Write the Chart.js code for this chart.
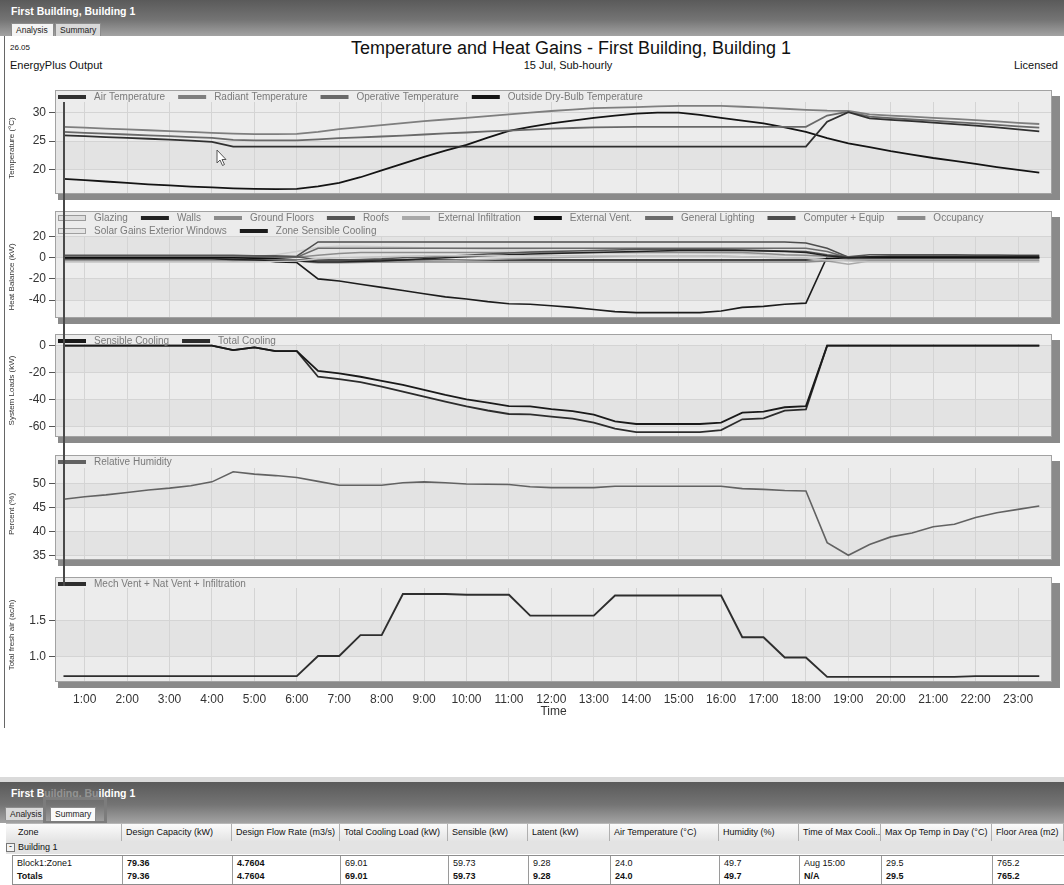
<!DOCTYPE html>
<html lang="en">
<head>
<meta charset="UTF-8">
<title>Temperature and Heat Gains - First Building, Building 1</title>
<script src="https://cdn.jsdelivr.net/npm/chart.js"></script>
<style>
  body { margin: 0; background: #fff; font-family: 'Liberation Sans', Arial, sans-serif; }
  #page { position: relative; width: 1064px; height: 885px; overflow: hidden; }
  .bar { position: absolute; left: 0; width: 1064px; height: 40px; background: linear-gradient(#5a5a5a, #747474 55%, #a3a3a3); }
  .bar .name { position: absolute; left: 11px; top: 5px; color: #fff; font: bold 10.5px 'Liberation Sans', Arial, sans-serif; }
  .tab { position: absolute; top: 23px; height: 13px; line-height: 13px; font-size: 8.5px; padding: 0 4px; color: #222; border: 1px solid #8c8c8c; border-bottom: none; box-sizing: border-box; }
  .txt { position: absolute; color: #111; white-space: nowrap; }
  canvas { position: absolute; left: 0; }
  .row { position: absolute; left: 0; display: flex; font-size: 9px; color: #111; }
  .row div { box-sizing: border-box; padding-left: 4px; white-space: nowrap; overflow: hidden; }
  .hdr div { border-right: 1px solid #b0b0b0; }
  .cells div { border-right: 1px solid #9a9a9a; }
  .b { font-weight: bold; }
</style>
</head>
<body>
<div id="page">
  <div class="bar" style="top:0;height:36px">
    <span class="name">First Building, Building 1</span>
    <span class="tab" style="left:11px;width:43px;background:#f4f4f4">Analysis</span>
    <span class="tab" style="left:55px;width:46px;background:#d9d9d9">Summary</span>
  </div>
  <div style="position:absolute;left:4px;top:36px;width:1px;height:692px;background:#666"></div>

  <div class="txt" style="left:10px;top:43px;font-size:8px">26.05</div>
  <div class="txt" style="left:10px;top:59px;font-size:11px">EnergyPlus Output</div>
  <div class="txt" style="left:571px;top:38px;font-size:18px;transform:translateX(-50%)">Temperature and Heat Gains - First Building, Building 1</div>
  <div class="txt" style="left:568px;top:59px;font-size:11px;transform:translateX(-50%)">15 Jul, Sub-hourly</div>
  <div class="txt" style="right:6px;top:59px;font-size:11px">Licensed</div>

  <canvas id="c1" width="1064" height="122" style="top:84px"></canvas>
  <canvas id="c2" width="1064" height="125" style="top:205px"></canvas>
  <canvas id="c3" width="1064" height="121" style="top:328px"></canvas>
  <canvas id="c4" width="1064" height="123" style="top:449px"></canvas>
  <canvas id="c5" width="1064" height="155" style="top:571px"></canvas>

  <!-- tracker line and mouse pointer left in the screenshot -->
  <div style="position:absolute;left:63px;top:102px;width:2px;height:484px;background:#4a4a4a"></div>
  <svg style="position:absolute;left:216px;top:149px" width="12" height="18" viewBox="0 0 12 18">
    <path d="M1 1 L1 14 L4 11 L6.5 16.5 L8.5 15.5 L6 10.5 L10 10.5 Z" fill="#fff" stroke="#555" stroke-width="1"/>
  </svg>

  <!-- summary panel -->
  <div style="position:absolute;left:0;top:777px;width:1064px;height:5px;background:#dadada"></div>
  <div class="bar" style="top:782px;height:41px">
    <span class="name">First B<span style="color:rgba(255,255,255,0.3)">uilding, Bu</span>ilding 1</span>
    <span class="tab" style="left:5px;top:25px;width:40px;background:#d9d9d9">Analysis</span>
    <span class="tab" style="left:50px;top:25px;width:46px;background:#fafafa;height:16px">Summary</span>
  </div>
  <div style="position:absolute;left:43px;top:797px;width:64px;height:27px;border:3px solid #7c7c7c;box-sizing:border-box"></div>

  <div id="table"></div>
</div>

<script>
// time of each sub-hourly record (hours)
const times = [0.5, 1, 1.5, 2, 2.5, 3, 3.5, 4, 4.5, 5, 5.5, 6, 6.5, 7, 7.5, 8, 8.5, 9, 9.5, 10, 10.5, 11, 11.5, 12,
  12.5, 13, 13.5, 14, 14.5, 15, 15.5, 16, 16.5, 17, 17.5, 18, 18.5, 19, 19.5, 20, 20.5, 21, 21.5, 22, 22.5, 23, 23.5];
const hourTicks = [1, 2, 3, 4, 5, 6, 7, 8, 9, 10, 11, 12, 13, 14, 15, 16, 17, 18, 19, 20, 21, 22, 23];

// Temperature (°C)
const airTemp = [26.0, 25.85, 25.7, 25.55, 25.4, 25.25, 25.05, 24.85, 24.0, 24.0, 24.0, 24.0, 24.0, 24.0, 24.0, 24.0,
  24.0, 24.0, 24.0, 24.0, 24.0, 24.0, 24.0, 24.0, 24.0, 24.0, 24.0, 24.0, 24.0, 24.0, 24.0, 24.0, 24.0, 24.0, 24.0, 24.0,
  28.4, 30.1, 29.0, 28.75, 28.5, 28.25, 28.0, 27.7, 27.4, 27.05, 26.7];
const radiantTemp = [27.5, 27.35, 27.2, 27.05, 26.9, 26.75, 26.6, 26.45, 26.3, 26.2, 26.2, 26.25, 26.6, 27.1, 27.45,
  27.8, 28.15, 28.5, 28.8, 29.1, 29.4, 29.7, 30.0, 30.3, 30.55, 30.8, 30.9, 31.0, 31.1, 31.2, 31.2, 31.2, 31.05, 30.9,
  30.7, 30.5, 30.35, 30.3, 29.7, 29.5, 29.3, 29.1, 28.9, 28.7, 28.45, 28.2, 28.0];
const operativeTemp = [26.6, 26.45, 26.3, 26.15, 26.0, 25.85, 25.7, 25.55, 25.2, 25.1, 25.1, 25.1, 25.3, 25.5, 25.65,
  25.8, 25.95, 26.15, 26.35, 26.5, 26.7, 26.85, 27.0, 27.2, 27.3, 27.4, 27.45, 27.5, 27.5, 27.5, 27.5, 27.5, 27.5, 27.5,
  27.5, 27.5, 29.5, 30.2, 29.3, 29.05, 28.8, 28.6, 28.35, 28.1, 27.85, 27.6, 27.35];
const outsideTemp = [18.3, 18.1, 17.85, 17.6, 17.35, 17.15, 16.95, 16.8, 16.65, 16.55, 16.5, 16.55, 17.0, 17.6, 18.6,
  19.8, 21.0, 22.2, 23.3, 24.3, 25.6, 26.8, 27.5, 28.1, 28.6, 29.1, 29.5, 29.85, 30.0, 30.0, 29.6, 29.1, 28.6, 28.1,
  27.4, 26.6, 25.5, 24.6, 23.9, 23.2, 22.6, 22.0, 21.5, 20.95, 20.4, 19.9, 19.4];
const tempTicks = [20, 25, 30];

// Heat balance (kW)
const glazing = [-4, -4, -4, -4, -4, -4, -4, -4, -4, -4, -3.5, -3, -1, 0, 0.5, 1, 1.5, 2, 2, 2, 2, 2, 2, 2, 2, 2, 2, 2,
  2, 2, 2, 1.5, 1, 0.5, 0, -0.5, -2, -3, -4, -4, -4, -4, -4, -4, -4, -4, -4];
const walls = [-1, -1, -1, -1, -1, -1, -1, -1, -1.5, -2, -2.5, -3, -4, -4, -3.5, -3, -2, -1, 0, 1, 2, 3, 3.5, 4, 4.5, 5,
  5.5, 6, 6.5, 7, 7, 7, 7, 6.5, 6, 5, 2, 0, 1, 1.5, 1.5, 1.5, 1.5, 1.5, 1.5, 1.5, 1.5];
const groundFloors = [-2, -2, -2, -2, -2, -2, -2, -2, -2, -2, -2, -2, -4, -4, -4, -4, -4, -4, -4, -4, -4, -4, -4, -4,
  -4, -4, -4, -4, -4, -4, -4, -4, -4, -4, -4, -4, -3, -2, -2, -2, -2, -2, -2, -2, -2, -2, -2];
const roofs = [2.5, 2.5, 2.5, 2.5, 2.5, 2.5, 2.5, 2.5, 2.5, 2, 2, 1, -2, -2, -1.5, -1, 0, 0.5, 1.5, 2.5, 3.5, 4.5, 5.5,
  6, 6.5, 7, 7.5, 8, 8, 8, 8, 8, 7.5, 7, 6.5, 6, 3, 1, 3, 3, 3, 2.8, 2.8, 2.6, 2.6, 2.5, 2.5];
const extInfiltration = [-3, -3, -3, -3, -3, -3, -3, -3, -3, -3, -3, -3, -5, -5, -4.5, -4, -3.5, -3, -2.5, -2, -1.5,
  -1, -0.5, 0, 0.5, 1, 1.5, 2, 2, 2, 2, 1.5, 1, 0.5, 0, -0.5, -3, -6, -3, -3, -3, -3, -3, -3, -3, -3, -3];
const extVent = [0, 0, 0, 0, 0, 0, 0, 0, 0, -0.5, -1, -2, -2.2, -2.2, -2.2, -2.2, -2.2, -2.2, -2.2, -2.2, -2.2, -2.2,
  -2.2, -2.2, -2.2, -2.2, -2.2, -2.2, -2.2, -2.2, -2.2, -2.2, -2.2, -2.2, -2.2, -2.2, -1, 0, 0, 0, 0, 0, 0, 0, 0, 0, 0];
const generalLighting = [0, 0, 0, 0, 0, 0, 0, 0, 0, 0, 0, 0.5, 9, 9, 9, 9, 9, 9, 9, 9, 9, 9, 9, 9, 9, 9, 9, 9, 9, 9, 9,
  9, 9, 9, 9, 9, 6, 0, 0, 0, 0, 0, 0, 0, 0, 0, 0];
const computerEquip = [0.8, 0.8, 0.8, 0.8, 0.8, 0.8, 0.8, 0.8, 0.8, 0.8, 1, 1.5, 15, 15, 15, 15, 15, 15, 15, 15, 15, 15,
  15, 15, 15, 15, 15, 15, 15, 15, 15, 15, 15, 15, 15, 14, 9, 0.5, 0.8, 0.8, 0.8, 0.8, 0.8, 0.8, 0.8, 0.8, 0.8];
const occupancy = [0, 0, 0, 0, 0, 0, 0, 0, 0, 0, 0, 0.5, 2.5, 4, 5, 5, 5, 5, 5, 5, 5, 5, 5, 5, 5, 5, 5, 5, 5, 5, 5, 5, 5,
  4, 3, 2.5, 1.5, 0, 0, 0, 0, 0, 0, 0, 0, 0, 0];
const solarGains = [0, 0, 0, 0, 0, 0, 0, 0, 0, 1, 3, 6, 10, 11, 11, 10.5, 10, 9.5, 9, 8.5, 8, 7.5, 7.5, 7, 7, 7, 7,
  6.5, 6, 5.5, 5, 4.5, 4, 3, 2.5, 2, 1, 0, 0, 0, 0, 0, 0, 0, 0, 0, 0];
const zoneSensibleCooling = [0, 0, 0, 0, 0, 0, 0, 0, -3, -1, -4, -4.5, -20, -22, -25, -28, -31, -34, -37, -39, -41.5,
  -43.5, -44, -45.5, -47, -49, -51, -52, -52, -52, -52, -50.5, -47, -46, -44, -43, 1, 0.5, 0, 0, 0, 0, 0, 0, 0, 0, 0];
const heatTicks = [-40, -20, 0, 20];

// System loads (kW)
const sensibleCooling = [0, 0, 0, 0, 0, 0, 0, 0, -3.2, -1.2, -4, -4, -18.7, -20.5, -23, -26, -29, -32.8, -36.5, -39.7,
  -42.2, -44.7, -44.9, -47, -48.5, -51, -56, -58, -58, -58, -58, -57, -49.6, -48.9, -45.6, -44.7, 0, 0, 0, 0, 0, 0, 0,
  0, 0, 0, 0];
const totalCooling = [0, 0, 0, 0, 0, 0, 0, 0, -3.2, -1.2, -4, -4, -23, -24.7, -27, -30.4, -34, -37.8, -41.5, -45, -48,
  -50.6, -50.8, -52.5, -54, -57, -61.5, -64, -64, -64, -64, -62.5, -54.5, -53.8, -48.1, -47.2, 0, 0, 0, 0, 0, 0, 0, 0,
  0, 0, 0];
const loadTicks = [-60, -40, -20, 0];

// Relative humidity (%)
const relHumidity = [46.7, 47.2, 47.6, 48.1, 48.6, 49.0, 49.5, 50.3, 52.4, 51.9, 51.6, 51.2, 50.4, 49.6, 49.6, 49.6,
  50.1, 50.3, 50.1, 49.85, 49.8, 49.75, 49.3, 49.1, 49.1, 49.1, 49.4, 49.4, 49.4, 49.4, 49.4, 49.4, 48.9, 48.75, 48.5,
  48.4, 37.7, 35.1, 37.3, 38.9, 39.7, 41.0, 41.5, 42.9, 43.9, 44.6, 45.3];
const rhTicks = [35, 40, 45, 50];

// Total fresh air (ac/h)
const freshAir = [0.73, 0.73, 0.73, 0.73, 0.73, 0.73, 0.73, 0.73, 0.73, 0.73, 0.73, 0.73, 1.01, 1.01, 1.30, 1.30, 1.87,
  1.87, 1.87, 1.86, 1.86, 1.86, 1.57, 1.57, 1.57, 1.57, 1.85, 1.85, 1.85, 1.85, 1.85, 1.85, 1.27, 1.27, 0.99, 0.99, 0.72,
  0.72, 0.72, 0.72, 0.72, 0.72, 0.72, 0.73, 0.73, 0.73, 0.73];
const airTicks = [1.0, 1.5];

// summary table
const summaryCols = ['Zone', 'Design Capacity (kW)', 'Design Flow Rate (m3/s)', 'Total Cooling Load (kW)', 'Sensible (kW)',
  'Latent (kW)', 'Air Temperature (°C)', 'Humidity (%)', 'Time of Max Cooli...', 'Max Op Temp in Day (°C)', 'Floor Area (m2)'];
const zoneRow = ['Block1:Zone1', '79.36', '4.7604', '69.01', '59.73', '9.28', '24.0', '49.7', 'Aug 15:00', '29.5', '765.2'];
const totalsRow = ['Totals', '79.36', '4.7604', '69.01', '59.73', '9.28', '24.0', '49.7', 'N/A', '29.5', '765.2'];

Chart.defaults.font.family = "'Liberation Sans', Arial, sans-serif";

// grey panel with drop shadow, legend drawn inside its top strip
const panelPlugin = {
  id: 'panel',
  beforeDraw(chart, args, opts) {
    const { ctx, chartArea: a } = chart;
    const top = a.top - opts.strip;
    const w = a.right - a.left, h = a.bottom - top;
    ctx.save();
    ctx.fillStyle = '#8a8a8a';
    ctx.fillRect(a.left + 3, top + 6, w + 5, h);
    ctx.fillStyle = '#ececec';
    ctx.fillRect(a.left, top, w, h);
    const ys = chart.scales.y;
    const px = ys.ticks.map(t => ys.getPixelForValue(t.value)).sort((p, q) => q - p);
    ctx.fillStyle = '#e3e3e3';
    for (let i = 0; i + 1 < px.length; i += 2) ctx.fillRect(a.left, px[i + 1], w, px[i] - px[i + 1]);
    ctx.restore();
  },
  afterDraw(chart, args, opts) {
    const { ctx, chartArea: a } = chart;
    const top = a.top - opts.strip;
    ctx.save();
    ctx.strokeStyle = '#a2a2a2';
    ctx.lineWidth = 1;
    ctx.strokeRect(a.left + 0.5, top + 0.5, a.right - a.left - 1, a.bottom - top - 1);
    ctx.font = "10px 'Liberation Sans', Arial, sans-serif";
    ctx.textBaseline = 'middle';
    let x = a.left + 3, y = top + 7;
    chart.data.datasets.forEach(ds => {
      const tw = ctx.measureText(ds.label).width;
      if (x + 36 + tw > a.right - 4) { x = a.left + 3; y += 13; }
      ctx.fillStyle = ds.swatch || ds.borderColor;
      if (ds.swatchEdge) {
        ctx.fillRect(x, y - 3, 28, 6);
        ctx.strokeStyle = ds.swatchEdge;
        ctx.strokeRect(x + 0.5, y - 2.5, 27, 5);
      } else {
        ctx.fillRect(x, y - 2, 28, 4);
      }
      ctx.fillStyle = '#7a7a7a';
      ctx.fillText(ds.label, x + 36, y + 0.5);
      x += 36 + tw + 13;
    });
    ctx.restore();
  }
};

function series(label, values, color, width, extra) {
  return Object.assign({
    label,
    data: values.map((v, i) => ({ x: times[i], y: v })),
    borderColor: color,
    backgroundColor: color,
    borderWidth: width,
    pointRadius: 0,
    tension: 0,
    fill: false
  }, extra || {});
}

function panel(id, datasets, o) {
  return new Chart(document.getElementById(id), {
    type: 'line',
    data: { datasets },
    options: {
      responsive: false,
      animation: false,
      events: [],
      layout: { padding: { left: 0, right: 12, top: o.padTop, bottom: o.padBottom } },
      plugins: { legend: { display: false }, tooltip: { enabled: false }, panel: { strip: o.strip } },
      scales: {
        x: {
          type: 'linear',
          min: 0.3,
          max: 23.8,
          afterBuildTicks: s => { s.ticks = hourTicks.map(v => ({ value: v })); },
          afterFit: s => { if (o.timeAxis) s.height = 40; },
          grid: { color: '#d4d4d4', drawTicks: false },
          border: { display: false },
          ticks: {
            display: !!o.timeAxis, autoSkip: false, maxRotation: 0, padding: 10,
            color: '#333', font: { size: 12 }, callback: v => v + ':00'
          },
          title: { display: !!o.timeAxis, text: 'Time', color: '#333', font: { size: 12 }, padding: { top: 0, bottom: 3 } }
        },
        y: {
          min: o.min,
          max: o.max,
          afterBuildTicks: s => { s.ticks = o.ticks.map(v => ({ value: v })); },
          afterFit: s => { s.width = 55; },
          grid: { color: '#d4d4d4', tickColor: '#555', tickLength: 6 },
          border: { display: false },
          ticks: { color: '#333', font: { size: 12 }, padding: 3, callback: o.fmt || (v => String(v)) },
          title: { display: true, text: o.title, color: '#333', font: { size: 8 }, padding: { top: 7, bottom: 0 } }
        }
      }
    },
    plugins: [panelPlugin]
  });
}

panel('c1', [
  series('Air Temperature', airTemp, '#303030', 1.8),
  series('Radiant Temperature', radiantTemp, '#7e7e7e', 1.8),
  series('Operative Temperature', operativeTemp, '#696969', 1.8),
  series('Outside Dry-Bulb Temperature', outsideTemp, '#141414', 1.8)
], { padTop: 18, padBottom: 12, strip: 12, min: 15.64, max: 31.89, ticks: tempTicks, title: 'Temperature (°C)' });

panel('c2', [
  series('Glazing', glazing, '#c4c4c4', 1.5, { swatch: '#dedede', swatchEdge: '#9a9a9a' }),
  series('Walls', walls, '#222222', 1.5),
  series('Ground Floors', groundFloors, '#8a8a8a', 1.5),
  series('Roofs', roofs, '#555555', 1.5),
  series('External Infiltration', extInfiltration, '#a8a8a8', 1.5),
  series('External Vent.', extVent, '#0e0e0e', 1.5),
  series('General Lighting', generalLighting, '#6b6b6b', 1.5),
  series('Computer + Equip', computerEquip, '#4d4d4d', 1.5),
  series('Occupancy', occupancy, '#8c8c8c', 1.5),
  series('Solar Gains Exterior Windows', solarGains, '#cdcdcd', 1.5, { swatch: '#e4e4e4', swatchEdge: '#a0a0a0' }),
  series('Zone Sensible Cooling', zoneSensibleCooling, '#1c1c1c', 1.6)
], { padTop: 31, padBottom: 12, strip: 25, min: -57.06, max: 20.66, ticks: heatTicks, title: 'Heat Balance (kW)' });

panel('c3', [
  series('Sensible Cooling', sensibleCooling, '#1a1a1a', 1.8),
  series('Total Cooling', totalCooling, '#2c2c2c', 1.8)
], { padTop: 16, padBottom: 12, strip: 10, min: -67.63, max: 1.26, ticks: loadTicks, title: 'System Loads (kW)' });

panel('c4', [
  series('Relative Humidity', relHumidity, '#626262', 1.6)
], { padTop: 19, padBottom: 12, strip: 13, min: 34.11, max: 53.17, ticks: rhTicks, title: 'Percent (%)' });

panel('c5', [
  series('Mech Vent + Nat Vent + Infiltration', freshAir, '#2e2e2e', 1.9)
], { padTop: 17, padBottom: 4, strip: 11, min: 0.649, max: 1.954, ticks: airTicks, title: 'Total fresh air (ac/h)',
  fmt: v => v.toFixed(1), timeAxis: true });

// summary table rows
const colWidths = [116, 110, 108, 108, 80, 82, 109, 80, 82, 111, 72];
function tableRow(cells, top, height, cls, style, boldCols) {
  const row = document.createElement('div');
  row.className = 'row ' + cls;
  row.style.cssText = 'top:' + top + 'px;height:' + height + 'px;line-height:' + height + 'px;' + style;
  cells.forEach((c, i) => {
    const cell = document.createElement('div');
    cell.style.width = colWidths[i] + 'px';
    if (boldCols === true || (boldCols && boldCols.includes(i))) cell.className = 'b';
    cell.textContent = c;
    row.appendChild(cell);
  });
  document.getElementById('table').appendChild(row);
  return row;
}
const hdr = tableRow(summaryCols, 823, 17, 'hdr',
  'left:6px;background:linear-gradient(#fbfbfb,#e4e4e4);border-top:1px solid #b8b8b8;border-bottom:1px solid #a4a4a4');
hdr.firstChild.style.paddingLeft = '12px';
const grp = document.createElement('div');
grp.className = 'row';
grp.style.cssText = 'left:6px;top:841px;width:1058px;height:13px;line-height:13px;background:#e3e3e3';
grp.innerHTML = '<span style="display:inline-block;width:7px;height:7px;border:1px solid #777;margin:2px 3px 0 0;line-height:5px;font-size:9px;text-align:center;background:#f2f2f2">-</span>Building 1';
document.getElementById('table').appendChild(grp);
const r1 = tableRow(zoneRow, 855, 14, 'cells', 'left:12px;border:1px solid #8e8e8e;background:#fff', [1, 2]);
r1.firstChild.style.width = (colWidths[0] - 6) + 'px';
const r2 = tableRow(totalsRow, 869, 15, 'cells', 'left:12px;border:1px solid #8e8e8e;border-top:none;background:#fff', true);
r2.firstChild.style.width = (colWidths[0] - 6) + 'px';
</script>
</body>
</html>
